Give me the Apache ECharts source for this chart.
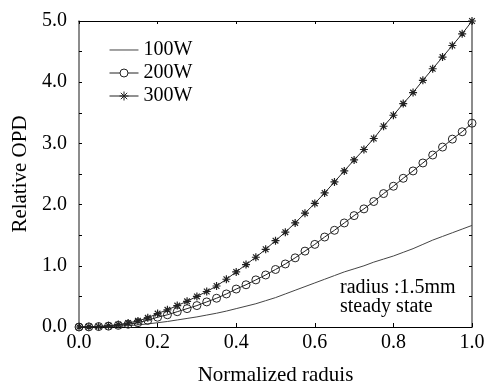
<!DOCTYPE html>
<html>
<head>
<meta charset="utf-8">
<script src="https://cdn.jsdelivr.net/npm/echarts@6/dist/echarts.min.js"></script>
<style>html,body{margin:0;padding:0;background:#fff}#c{width:489px;height:383px}</style>
</head>
<body>
<div id="c"></div>
<script>
const radius = [0,0.025,0.05,0.075,0.1,0.125,0.15,0.175,0.2,0.225,0.25,0.275,0.3,0.325,0.35,0.375,0.4,0.425,0.45,0.475,0.5,0.525,0.55,0.575,0.6,0.625,0.65,0.675,0.7,0.725,0.75,0.775,0.8,0.825,0.85,0.875,0.9,0.925,0.95,0.975,1.0];
const opd100 = [0,0.001,0.003,0.007,0.013,0.022,0.035,0.05,0.07,0.09,0.115,0.14,0.165,0.195,0.225,0.26,0.30,0.34,0.38,0.43,0.48,0.54,0.60,0.66,0.72,0.78,0.84,0.90,0.95,1.00,1.06,1.11,1.16,1.22,1.28,1.35,1.42,1.48,1.54,1.60,1.66];
const opd200 = [0,0.002,0.007,0.014,0.027,0.045,0.07,0.11,0.16,0.20,0.25,0.30,0.35,0.41,0.47,0.54,0.62,0.69,0.77,0.85,0.94,1.03,1.13,1.24,1.35,1.47,1.58,1.70,1.82,1.93,2.05,2.18,2.30,2.43,2.55,2.68,2.81,2.94,3.07,3.19,3.33];
const opd300 = [0,0.003,0.01,0.02,0.04,0.065,0.10,0.15,0.22,0.28,0.35,0.42,0.50,0.58,0.67,0.78,0.90,1.02,1.14,1.27,1.41,1.55,1.70,1.86,2.02,2.19,2.37,2.55,2.73,2.90,3.08,3.28,3.46,3.65,3.83,4.03,4.22,4.41,4.60,4.79,5.00];
const seriesNames = ['100W','200W','300W'];
const xTicks = ['0.0','0.2','0.4','0.6','0.8','1.0'];
const yTicks = ['0.0','1.0','2.0','3.0','4.0','5.0'];
const note = ['radius :1.5mm','steady state'];

const FONT = 'Liberation Serif';
const pairs = ys => radius.map((x,i)=>[x,ys[i]]);
const star = 'path://M0,-5L0,5M-5,0L5,0M-3.54,-3.54L3.54,3.54M-3.54,3.54L3.54,-3.54';
const starLegend = 'path://M0,4.5L29,4.5M14.5,0L14.5,9M10,4.5L19,4.5M11.3,1.3L17.7,7.7M11.3,7.7L17.7,1.3';
const circleLegend = 'path://M0,4.5L10.5,4.5M18.5,4.5L29,4.5M10.5,4.5A4,4,0,1,1,18.5,4.5A4,4,0,1,1,10.5,4.5';
const lineLegend = 'path://M0,4.5L29,4.5M14.5,0L14.5,0.01M14.5,9L14.5,9.01';

const chart = echarts.init(document.getElementById('c'));
const axText = {fontFamily: FONT, fontSize: 20, color: '#000'};
chart.setOption({
  animation: false,
  grid: {left: 79, right: 17, top: 21, bottom: 56, outerBoundsMode: 'none', containLabel: false},
  legend: {
    orient: 'vertical', left: 104, top: 35, itemWidth: 29, itemHeight: 9, itemGap: 3,
    textStyle: {fontFamily: FONT, fontSize: 20, color: '#000', lineHeight: 20},
    data: [
      {name: seriesNames[0], icon: lineLegend, itemStyle: {color: 'rgba(0,0,0,0)', borderColor: '#444', borderWidth: 1}},
      {name: seriesNames[1], icon: circleLegend, itemStyle: {color: 'rgba(0,0,0,0)', borderColor: '#222', borderWidth: 1}},
      {name: seriesNames[2], icon: starLegend, itemStyle: {color: 'rgba(0,0,0,0)', borderColor: '#222', borderWidth: 1}}
    ]
  },
  xAxis: [{
    type: 'value', min: 0, max: 1, interval: 0.2,
    name: 'Normalized raduis', nameLocation: 'middle', nameGap: 38,
    nameTextStyle: {fontFamily: FONT, fontSize: 21, color: '#000'},
    axisLine: {onZero: false, lineStyle: {color: '#000', width: 1}},
    axisTick: {inside: true, length: 4, lineStyle: {color: '#000'}},
    axisLabel: Object.assign({margin: 6, formatter: v => xTicks[Math.round(v/0.2)] || ''}, axText),
    splitLine: {show: false}
  }, {
    type: 'value', min: 0, max: 1, interval: 0.2, position: 'top',
    axisLine: {onZero: false, lineStyle: {color: '#000', width: 1}},
    axisTick: {inside: true, length: 3, lineStyle: {color: '#000'}},
    axisLabel: {show: false}, splitLine: {show: false}
  }],
  yAxis: [{
    type: 'value', min: 0, max: 5, interval: 0.5,
    name: 'Relative OPD', nameLocation: 'middle', nameGap: 48,
    nameTextStyle: {fontFamily: FONT, fontSize: 21, color: '#000'},
    axisLine: {onZero: false, lineStyle: {color: '#666', width: 1.5}},
    axisTick: {inside: true, length: 3, lineStyle: {color: '#000'}},
    axisLabel: Object.assign({margin: 12, formatter: v => (Math.abs(v - Math.round(v)) < 1e-6 ? yTicks[Math.round(v)] : '')}, axText),
    splitLine: {show: false}
  }, {
    type: 'value', min: 0, max: 5, interval: 0.5, position: 'right',
    axisLine: {onZero: false, lineStyle: {color: '#666', width: 1.5}},
    axisTick: {inside: true, length: 3, lineStyle: {color: '#000'}},
    axisLabel: {show: false}, splitLine: {show: false}
  }],
  graphic: [{
    type: 'text', left: 340, top: 278,
    style: {text: note.join('\n'), fontFamily: FONT, fontSize: 20, lineHeight: 18.5, fill: '#000'}
  }],
  series: [{
    name: seriesNames[0], type: 'line', data: pairs(opd100), symbol: 'none',
    lineStyle: {color: '#444', width: 1}, itemStyle: {color: '#444'}
  }, {
    name: seriesNames[1], type: 'line', data: pairs(opd200), symbol: 'circle', symbolSize: 8,
    lineStyle: {color: '#222', width: 1},
    itemStyle: {color: 'rgba(0,0,0,0)', borderColor: '#222', borderWidth: 1}
  }, {
    name: seriesNames[2], type: 'line', data: pairs(opd300), symbol: star, symbolSize: 8,
    lineStyle: {color: '#222', width: 1},
    itemStyle: {color: '#222', borderColor: '#222', borderWidth: 1.2}
  }]
});
</script>
</body>
</html>
